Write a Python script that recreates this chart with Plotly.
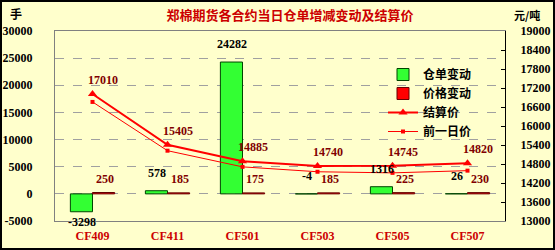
import plotly.graph_objects as go

categories = ["CF409", "CF411", "CF501", "CF503", "CF505", "CF507"]
warrant_change = [-3298, 578, 24282, -4, 1316, 26]
price_change = [250, 185, 175, 185, 225, 230]
settle_price = [17010, 15405, 14885, 14740, 14745, 14820]
prev_price = [s - p for s, p in zip(settle_price, price_change)]

left_ticks = [-5000, 0, 5000, 10000, 15000, 20000, 25000, 30000]
right_ticks = [13000, 13600, 14200, 14800, 15400, 16000, 16600, 17200, 17800, 18400, 19000]

W, H = 555, 250
L, R, T, B = 55, 50, 31, 29
PW, PH = W - L - R, H - T - B

BG = "#FFFFCC"
NUM_FONT = "Liberation Serif"
CJK_FONT = "Noto Sans CJK SC"

fig = go.Figure()
fig.add_trace(go.Bar(x=categories, y=warrant_change, name="仓单变动",
                     marker=dict(color="#33FF33", line=dict(color="#004400", width=1)),
                     offsetgroup="a", yaxis="y"))
fig.add_trace(go.Bar(x=categories, y=price_change, name="价格变动",
                     marker=dict(color="#FF0000", line=dict(color="#660000", width=1)),
                     offsetgroup="b", yaxis="y"))
fig.add_trace(go.Scatter(x=categories, y=settle_price, name="结算价", yaxis="y2",
                         mode="lines+markers",
                         line=dict(color="#FF0000", width=2),
                         marker=dict(symbol="triangle-up", size=8, color="#FF0000")))
fig.add_trace(go.Scatter(x=categories, y=prev_price, name="前一日价", yaxis="y2",
                         mode="lines+markers",
                         line=dict(color="#FF0000", width=1),
                         marker=dict(symbol="square", size=4, color="#FF0000")))

annotations = []
for c, v in zip(categories, warrant_change):
    neg_below = v < -100
    annotations.append(dict(x=c, y=v, xref="x", yref="y", text="<b>%d</b>" % v, showarrow=False,
                            xshift=-11, yshift=-1 if neg_below else 9,
                            yanchor="top" if neg_below else "bottom",
                            font=dict(family=NUM_FONT, size=12, color="#000000")))
for c, v in zip(categories, price_change):
    annotations.append(dict(x=c, y=v, xref="x", yref="y", text="<b>%d</b>" % v, showarrow=False,
                            xshift=12, yshift=5, yanchor="bottom",
                            font=dict(family=NUM_FONT, size=12, color="#800000")))
for c, v in zip(categories, settle_price):
    annotations.append(dict(x=c, y=v, xref="x", yref="y2", text="<b>%d</b>" % v, showarrow=False,
                            xshift=10, yshift=5, yanchor="bottom",
                            font=dict(family=NUM_FONT, size=12, color="#800000")))

def canvas_to_plot(px, py):
    return (px - L) / PW, 1 - (py - T) / PH

ax, ay = canvas_to_plot(8, 14)
annotations.append(dict(x=ax, y=ay, xref="paper", yref="paper", text="<b>手</b>",
                        showarrow=False, xanchor="left", yanchor="middle",
                        font=dict(family=CJK_FONT, size=12)))
ax, ay = canvas_to_plot(512, 15)
annotations.append(dict(x=ax, y=ay, xref="paper", yref="paper", text="<b>元/吨</b>",
                        showarrow=False, xanchor="left", yanchor="middle",
                        font=dict(family=CJK_FONT, size=11)))

fig.update_layout(
    width=W, height=H,
    margin=dict(l=L, r=R, t=T, b=B, autoexpand=False),
    paper_bgcolor=BG, plot_bgcolor=BG,
    font=dict(family=CJK_FONT, size=12, color="#000000"),
    title=dict(text="<b>郑棉期货各合约当日仓单增减变动及结算价</b>", x=290 / W, xanchor="center",
               y=1 - 15 / H, yanchor="middle", automargin=False,
               font=dict(family=CJK_FONT, size=13, color="#CC0000")),
    barmode="group", bargap=0.41, bargroupgap=0,
    showlegend=True,
    legend=dict(x=(383 - L) / PW, y=1 - (60 - T) / PH, xanchor="left", yanchor="top",
                bgcolor="rgba(0,0,0,0)", tracegroupgap=0,
                font=dict(family=CJK_FONT, size=12, color="#000000", weight="bold"), itemwidth=30),
    xaxis=dict(type="category", categoryorder="array", categoryarray=categories,
               range=[-0.5, 5.5], showgrid=False, ticks="", showline=True,
               linecolor="#808080", linewidth=1, mirror=True, automargin=False,
               tickfont=dict(family=NUM_FONT, size=12, color="#CC0000", weight="bold"),
               ticklabelstandoff=4),
    xaxis3=dict(overlaying="x", anchor="free", position=5000 / 35000, range=[-0.5, 5.5],
                tickvals=[0.5, 1.5, 2.5, 3.5, 4.5], ticks="outside", ticklen=4,
                tickcolor="#000000", showticklabels=False, showgrid=False, automargin=False,
                showline=True, linecolor="#000000", linewidth=1, zeroline=False),
    yaxis=dict(range=[-5000, 30000], tickvals=left_ticks, ticktext=[str(t) for t in left_ticks],
               showgrid=True, gridcolor="#A0A0A0", griddash="dash", gridwidth=1, zeroline=False,
               showline=True, linecolor="#808080", ticks="", automargin=False,
               tickfont=dict(family=NUM_FONT, size=12, color="#000000", weight="bold"),
               ticklabelstandoff=19),
    yaxis2=dict(range=[13000, 19000], tickvals=right_ticks, ticktext=[str(t) for t in right_ticks],
                overlaying="y", side="right", automargin=False,
                showgrid=False, zeroline=False, showline=True, linecolor="#000000",
                ticks="inside", ticklen=4, tickcolor="#000000",
                tickfont=dict(family=NUM_FONT, size=12, color="#000000", weight="bold"),
                ticklabelstandoff=12),
    annotations=annotations,
    shapes=[dict(type="rect", xref="paper", yref="paper",
                 x0=(1 - L) / PW, x1=(W - 1 - L) / PW,
                 y0=1 - (H - 1 - T) / PH, y1=1 - (1 - T) / PH,
                 line=dict(color="#000000", width=2), layer="above")],
)

fig.write_html("out.html")
